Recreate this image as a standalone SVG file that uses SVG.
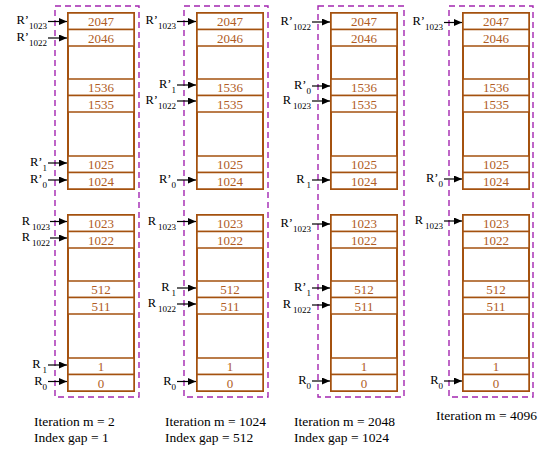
<svg xmlns="http://www.w3.org/2000/svg" width="546" height="452" viewBox="0 0 546 452">
<style>
.dash{fill:none;stroke:#a326b0;stroke-width:1.4;stroke-dasharray:6 4}
.outer{fill:#fff;stroke:#a4510f;stroke-width:2}
.cell{fill:#fff;stroke:#a4510f;stroke-width:1.5}
.num{fill:#b05c24;text-anchor:middle}
.lab{fill:#000;text-anchor:end}
.cap{fill:#000}
.arr{stroke:#000;stroke-width:1.2;fill:none;marker-end:url(#ah)}
</style>
<defs>
<marker id="ah" markerUnits="userSpaceOnUse" markerWidth="9" markerHeight="7" refX="8" refY="3.5" orient="auto">
<path d="M0,0 L8,3.5 L0,7 z" fill="#000"/>
</marker>
<g id="mem">
<rect class="outer" x="0" y="13" width="66" height="176"/>
<rect class="cell" x="0" y="13" width="66" height="16.5"/>
<rect class="cell" x="0" y="29.5" width="66" height="16.5"/>
<rect class="cell" x="0" y="79" width="66" height="16.5"/>
<rect class="cell" x="0" y="95.5" width="66" height="16.5"/>
<rect class="cell" x="0" y="156" width="66" height="16.5"/>
<rect class="cell" x="0" y="172.5" width="66" height="16.5"/>
<rect class="outer" x="0" y="215" width="66" height="176"/>
<rect class="cell" x="0" y="215" width="66" height="16.5"/>
<rect class="cell" x="0" y="231.5" width="66" height="16.5"/>
<rect class="cell" x="0" y="281" width="66" height="16.5"/>
<rect class="cell" x="0" y="297.5" width="66" height="16.5"/>
<rect class="cell" x="0" y="358" width="66" height="16.5"/>
<rect class="cell" x="0" y="374.5" width="66" height="16.5"/>
<g font-family="Liberation Serif" font-size="13">
<text class="num" x="33" y="26">2047</text>
<text class="num" x="33" y="42.5">2046</text>
<text class="num" x="33" y="92">1536</text>
<text class="num" x="33" y="108.5">1535</text>
<text class="num" x="33" y="169">1025</text>
<text class="num" x="33" y="185.5">1024</text>
<text class="num" x="33" y="228">1023</text>
<text class="num" x="33" y="244.5">1022</text>
<text class="num" x="33" y="294">512</text>
<text class="num" x="33" y="310.5">511</text>
<text class="num" x="33" y="371">1</text>
<text class="num" x="33" y="387.5">0</text>
</g>
</g>
</defs>

<g id="col1" transform="translate(68,0)">
<rect class="dash" x="-13" y="6" width="84" height="391"/>
<use href="#mem"/>
</g>
<g id="col2" transform="translate(197,0)">
<rect class="dash" x="-13" y="6" width="84" height="391"/>
<use href="#mem"/>
</g>
<g id="col3" transform="translate(331,0)">
<rect class="dash" x="-13" y="6" width="86" height="391"/>
<use href="#mem"/>
</g>
<g id="col4" transform="translate(463,0)">
<rect class="dash" x="-14" y="6" width="84" height="391"/>
<use href="#mem"/>
</g>

<g id="connectors">
<g transform="translate(68,0)">
<line class="arr" x1="-20" y1="21.5" x2="-1" y2="21.5"/>
<line class="arr" x1="-20" y1="38" x2="-1" y2="38"/>
<line class="arr" x1="-20" y1="163" x2="-1" y2="163"/>
<line class="arr" x1="-20" y1="180" x2="-1" y2="180"/>
<line class="arr" x1="-18" y1="221.5" x2="-1" y2="221.5"/>
<line class="arr" x1="-18" y1="238" x2="-1" y2="238"/>
<line class="arr" x1="-20" y1="365" x2="-1" y2="365"/>
<line class="arr" x1="-20" y1="381.5" x2="-1" y2="381.5"/>
</g>
<g transform="translate(197,0)">
<line class="arr" x1="-20" y1="21.5" x2="-1" y2="21.5"/>
<line class="arr" x1="-20" y1="85" x2="-1" y2="85"/>
<line class="arr" x1="-20" y1="101" x2="-1" y2="101"/>
<line class="arr" x1="-20" y1="180" x2="-1" y2="180"/>
<line class="arr" x1="-20" y1="221.5" x2="-1" y2="221.5"/>
<line class="arr" x1="-20" y1="288" x2="-1" y2="288"/>
<line class="arr" x1="-20" y1="304" x2="-1" y2="304"/>
<line class="arr" x1="-20" y1="381.5" x2="-1" y2="381.5"/>
</g>
<g transform="translate(331,0)">
<line class="arr" x1="-19" y1="22" x2="-1" y2="22"/>
<line class="arr" x1="-19" y1="86" x2="-1" y2="86"/>
<line class="arr" x1="-19" y1="101" x2="-1" y2="101"/>
<line class="arr" x1="-19" y1="180" x2="-1" y2="180"/>
<line class="arr" x1="-19" y1="224" x2="-1" y2="224"/>
<line class="arr" x1="-19" y1="288" x2="-1" y2="288"/>
<line class="arr" x1="-19" y1="305" x2="-1" y2="305"/>
<line class="arr" x1="-19" y1="381" x2="-1" y2="381"/>
</g>
<g transform="translate(463,0)">
<line class="arr" x1="-19" y1="22.5" x2="-1" y2="22.5"/>
<line class="arr" x1="-19" y1="179" x2="-1" y2="179"/>
<line class="arr" x1="-19" y1="221" x2="-1" y2="221"/>
<line class="arr" x1="-19" y1="381" x2="-1" y2="381"/>
</g>
</g>

<g id="labels" font-family="Liberation Serif" font-size="12.5">
<g transform="translate(68,0)">
<text class="lab" x="-21" y="24">R’<tspan font-size="9" dy="5">1023</tspan></text>
<text class="lab" x="-21" y="40.5">R’<tspan font-size="9" dy="5">1022</tspan></text>
<text class="lab" x="-21" y="165.5">R’<tspan font-size="9" dy="5">1</tspan></text>
<text class="lab" x="-21" y="182.5">R’<tspan font-size="9" dy="5">0</tspan></text>
<text class="lab" x="-18" y="224.5">R<tspan font-size="9" dx="2" dy="5">1023</tspan></text>
<text class="lab" x="-18" y="241">R<tspan font-size="9" dx="2" dy="5">1022</tspan></text>
<text class="lab" x="-21" y="368">R<tspan font-size="9" dx="2" dy="5">1</tspan></text>
<text class="lab" x="-21" y="384.5">R<tspan font-size="9" dy="5">0</tspan></text>
</g>
<g transform="translate(197,0)">
<text class="lab" x="-21" y="24">R’<tspan font-size="9" dy="5">1023</tspan></text>
<text class="lab" x="-21" y="87.5">R’<tspan font-size="9" dy="5">1</tspan></text>
<text class="lab" x="-21" y="103.5">R’<tspan font-size="9" dy="5">1022</tspan></text>
<text class="lab" x="-21" y="182.5">R’<tspan font-size="9" dy="5">0</tspan></text>
<text class="lab" x="-21" y="224.5">R<tspan font-size="9" dx="2" dy="5">1023</tspan></text>
<text class="lab" x="-21" y="291">R<tspan font-size="9" dx="2" dy="5">1</tspan></text>
<text class="lab" x="-21" y="307">R<tspan font-size="9" dx="2" dy="5">1022</tspan></text>
<text class="lab" x="-21" y="384.5">R<tspan font-size="9" dy="5">0</tspan></text>
</g>
<g transform="translate(331,0)">
<text class="lab" x="-20" y="24.5">R’<tspan font-size="9" dy="5">1022</tspan></text>
<text class="lab" x="-20" y="88.5">R’<tspan font-size="9" dy="5">0</tspan></text>
<text class="lab" x="-20" y="104">R<tspan font-size="9" dx="2" dy="5">1023</tspan></text>
<text class="lab" x="-20" y="183">R<tspan font-size="9" dx="2" dy="5">1</tspan></text>
<text class="lab" x="-20" y="226.5">R’<tspan font-size="9" dy="5">1023</tspan></text>
<text class="lab" x="-20" y="290.5">R’<tspan font-size="9" dy="5">1</tspan></text>
<text class="lab" x="-20" y="308">R<tspan font-size="9" dx="2" dy="5">1022</tspan></text>
<text class="lab" x="-20" y="384">R<tspan font-size="9" dy="5">0</tspan></text>
</g>
<g transform="translate(463,0)">
<text class="lab" x="-20" y="25">R’<tspan font-size="9" dy="5">1023</tspan></text>
<text class="lab" x="-20" y="181.5">R’<tspan font-size="9" dy="5">0</tspan></text>
<text class="lab" x="-20" y="224">R<tspan font-size="9" dx="2" dy="5">1023</tspan></text>
<text class="lab" x="-20" y="384">R<tspan font-size="9" dy="5">0</tspan></text>
</g>
</g>

<g id="captions" font-family="Liberation Serif" font-size="13.5">
<text class="cap" x="34" y="426">Iteration m = 2</text>
<text class="cap" x="34" y="442">Index gap = 1</text>
<text class="cap" x="165" y="426">Iteration m = 1024</text>
<text class="cap" x="165" y="442">Index gap = 512</text>
<text class="cap" x="294" y="426">Iteration m = 2048</text>
<text class="cap" x="294" y="442">Index gap = 1024</text>
<text class="cap" x="436" y="420">Iteration m = 4096</text>
</g>
</svg>
